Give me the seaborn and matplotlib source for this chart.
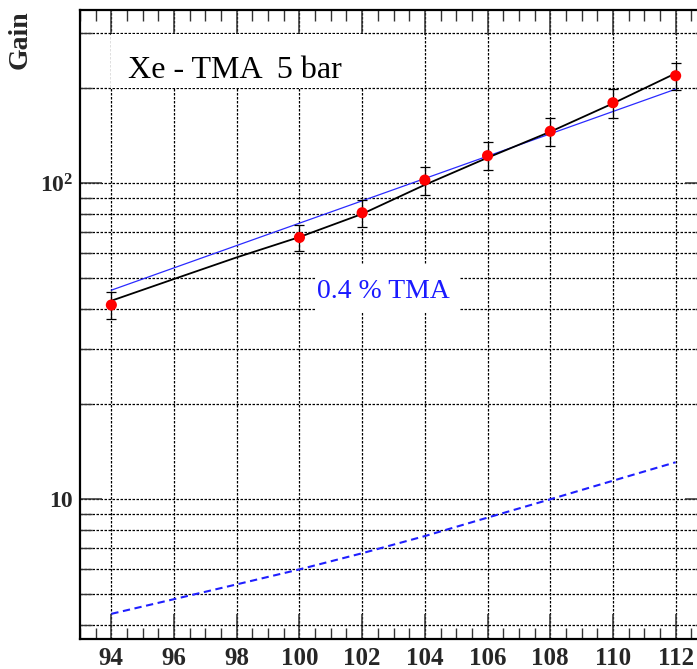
import numpy as np
import pandas as pd
import matplotlib
matplotlib.use("Agg")
import matplotlib.pyplot as plt
from matplotlib.ticker import FixedLocator, FixedFormatter, MultipleLocator, NullFormatter
from matplotlib.patches import Rectangle
import seaborn as sns

# Measured gain vs. field setting for Xe-TMA at 5 bar
voltage = [94, 100, 102, 104, 106, 108, 110, 112]
gain = [41.2, 67.4, 80.7, 102.4, 122.3, 146.1, 179.9, 219.0]
gain_err = [4.1, 6.5, 8.0, 10.4, 12.4, 14.5, 18.5, 21.5]

# Fit curve through the measurements
fit_x = [94, 96, 98, 100, 102, 104, 106, 108, 110, 112]
fit_y = [42.5, 49.8, 58.3, 67.6, 80.0, 98.9, 120.5, 145.6, 179.0, 222.9]

# Reference curve for 0.4 % TMA
tma_x = [94, 112]
tma_y = [45.9, 198.6]

# Lower reference curve (dashed)
ref_x = [94, 96, 98, 100, 102, 104, 106, 108, 110, 112]
ref_y = [4.34, 4.83, 5.38, 6.0, 6.75, 7.65, 8.75, 10.0, 11.45, 13.1]

x_ticks = [94, 96, 98, 100, 102, 104, 106, 108, 110, 112]
y_major = [10, 100]
y_major_labels = ["10", r"$\mathbf{10^{2}}$"]

sns.set_style("ticks")
plt.rcParams["font.family"] = ["Liberation Serif", "DejaVu Serif"]
plt.rcParams["mathtext.fontset"] = "custom"
plt.rcParams["mathtext.rm"] = "Liberation Serif"
plt.rcParams["mathtext.bf"] = "Liberation Serif:bold"

W, H = 697, 669
fig = plt.figure(figsize=(W / 100, H / 100), dpi=100)
ax = fig.add_axes([80 / W, 30 / H, 627 / W, 629 / H])

ax.set_yscale("log")
ax.set_xlim(93.0, 113.0)
ax.set_ylim(3.613, 353.6)

# grid: dotted lines at every labelled x and at every log subdivision in y
grid_style = dict(color="black", linewidth=0.9, linestyle=(0, (2.0, 1.2)))
ax.set_axisbelow(True)
ax.xaxis.set_major_locator(FixedLocator(x_ticks))
ax.xaxis.set_minor_locator(MultipleLocator(0.5))
ax.yaxis.set_major_locator(FixedLocator(y_major))
ax.yaxis.set_major_formatter(FixedFormatter(y_major_labels))
minor_y = [m * 10 ** e for e in range(0, 3) for m in range(2, 10)]
ax.yaxis.set_minor_locator(FixedLocator(minor_y))
ax.yaxis.set_minor_formatter(NullFormatter())
ax.grid(True, which="major", axis="both", **grid_style)
ax.grid(True, which="minor", axis="y", **grid_style)

# white panels behind the annotations
ax.add_patch(Rectangle((0.0494, 0.876), 0.4051, 0.0858, transform=ax.transAxes,
                       facecolor="white", edgecolor="none", zorder=1.5))
ax.add_patch(Rectangle((0.3748, 0.5183), 0.2312, 0.0763, transform=ax.transAxes,
                       facecolor="white", edgecolor="none", zorder=1.5))

df_fit = pd.DataFrame({"x": fit_x, "y": fit_y})
df_tma = pd.DataFrame({"x": tma_x, "y": tma_y})
df_ref = pd.DataFrame({"x": ref_x, "y": ref_y})
df_pts = pd.DataFrame({"x": voltage, "y": gain, "e": gain_err})

sns.lineplot(data=df_ref, x="x", y="y", ax=ax, color="#1f1fff", linewidth=1.5,
             linestyle=(0, (3.5, 2.2)), zorder=3)
sns.lineplot(data=df_tma, x="x", y="y", ax=ax, color="#2a2aff", linewidth=0.9, zorder=3)
sns.lineplot(data=df_fit, x="x", y="y", ax=ax, color="black", linewidth=1.3, zorder=4)
ax.errorbar(df_pts["x"], df_pts["y"], yerr=df_pts["e"], fmt="none", ecolor="black",
            elinewidth=0.9, capsize=3.6, capthick=0.9, zorder=5)
sns.scatterplot(data=df_pts, x="x", y="y", ax=ax, color="#ff0000", s=64,
                edgecolor="none", linewidth=0, zorder=6)

ax.set_xlabel("")
ax.set_ylabel("")

for side in ["left", "right", "top", "bottom"]:
    ax.spines[side].set_visible(True)
    ax.spines[side].set_linewidth(1.6)
    ax.spines[side].set_color("black")

ax.tick_params(axis="both", which="both", direction="in", top=True, right=True,
               color="#333333")
ax.tick_params(axis="x", which="major", length=18, width=1.1, pad=6,
               labelsize=18)
ax.tick_params(axis="x", which="minor", length=8, width=1.0)
ax.tick_params(axis="y", which="major", length=16, width=1.1, pad=5,
               labelsize=17)
ax.tick_params(axis="y", which="minor", length=8.5, width=1.0)
for lab in ax.get_xticklabels() + ax.get_yticklabels():
    lab.set_fontweight("bold")

ax.text(0.0766, 0.8914, "Xe - TMA  5 bar", transform=ax.transAxes, ha="left",
        va="baseline", fontsize=23, color="black", zorder=7)
ax.text(0.378, 0.5417, "0.4 % TMA", transform=ax.transAxes, ha="left",
        va="baseline", fontsize=20, color="#1a1aff", zorder=7)

fig.text(33 / W, 1 - 10 / H, "Gain", rotation=90, ha="right", va="top",
         fontsize=20, fontweight="bold")

fig.savefig("out.png", dpi=100)
